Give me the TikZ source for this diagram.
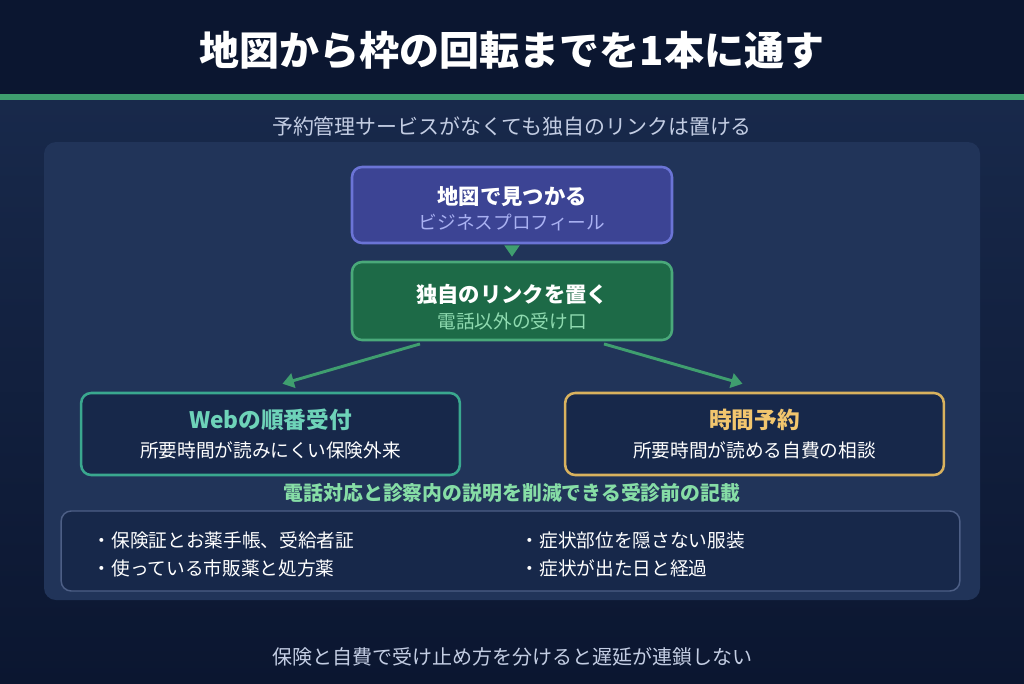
\documentclass[tikz,border=0pt]{standalone}
\usepackage{fontspec}
\setmainfont{Noto Sans CJK JP}
\usepackage{xcolor}
\usepackage{tikz}
\usetikzlibrary{arrows.meta, positioning}

\definecolor{bgDark}{HTML}{0B1630}
\definecolor{bgBand}{HTML}{18294B}
\definecolor{panelBg}{HTML}{213459}
\definecolor{cardBg}{HTML}{17284A}
\definecolor{lineGreen}{HTML}{3F9E6F}
\definecolor{mapFill}{HTML}{3C4494}
\definecolor{mapEdge}{HTML}{6B74D6}
\definecolor{mapSub}{HTML}{A9B1F2}
\definecolor{linkFill}{HTML}{1D6A47}
\definecolor{linkEdge}{HTML}{4AA97A}
\definecolor{linkSub}{HTML}{8FDBB0}
\definecolor{webEdge}{HTML}{3AA88F}
\definecolor{webText}{HTML}{6ED3B9}
\definecolor{slotEdge}{HTML}{D9B25E}
\definecolor{slotText}{HTML}{F2C66E}
\definecolor{noteHead}{HTML}{86DDA6}
\definecolor{noteEdge}{HTML}{4D5F86}
\definecolor{softText}{HTML}{C3CDE3}

\begin{document}
\begin{tikzpicture}[x=0.75pt, y=-0.75pt,
    box/.style={rectangle, draw, rounded corners=7.5pt, line width=1.9pt, minimum width=240pt, minimum height=57pt},
    card/.style={rectangle, draw, fill=cardBg, rounded corners=7.5pt, line width=1.9pt, minimum width=284pt, minimum height=61.5pt},
    ttl/.style={font=\fontsize{16}{19}\selectfont\bfseries},
    sub/.style={font=\fontsize{14}{17}\selectfont},
    item/.style={anchor=west, text=white, font=\fontsize{14}{17}\selectfont},
    arrow/.style={-{Triangle[length=8.5pt, width=11pt]}, line width=2.2pt, draw=lineGreen},
]
\useasboundingbox (0,0) rectangle (1024,683);

% background
\fill[bgDark] (0,0) rectangle (1024,683);
\shade[top color=bgBand, bottom color=bgDark] (0,99) rectangle (1024,683);
\fill[lineGreen] (0,94) rectangle (1024,100);
\fill[panelBg, rounded corners=9pt] (44,142) rectangle (980,600);

\node[text=white, font=\fontsize{30}{34}\selectfont\bfseries] (title) at (512,50) {地図から枠の回転までを1本に通す};
\node[text=softText, font=\fontsize{15.7}{18}\selectfont] (lead) at (512,126) {予約管理サービスがなくても独自のリンクは置ける};

% flow boxes
\node[box, fill=mapFill, draw=mapEdge] (map) at (512,205) {};
\node[ttl, text=white] (mapT) at (512,196) {地図で見つかる};
\node[sub, text=mapSub] (mapS) at (512,222) {ビジネスプロフィール};

\node[box, fill=linkFill, draw=linkEdge, minimum height=58.5pt] (link) at (512,301) {};
\node[ttl, text=white] (linkT) at (512,294) {独自のリンクを置く};
\node[sub, text=linkSub] (linkS) at (512,321) {電話以外の受け口};

\node[card, draw=webEdge] (web) at (270.5,434) {};
\node[ttl, text=webText, font=\fontsize{17}{20}\selectfont\bfseries] (webT) at (270.5,420) {Webの順番受付};
\node[sub, text=white] (webS) at (270.5,450) {所要時間が読みにくい保険外来};

\node[card, draw=slotEdge] (slot) at (754.5,434) {};
\node[ttl, text=slotText, font=\fontsize{17}{20}\selectfont\bfseries] (slotT) at (754.5,420) {時間予約};
\node[sub, text=white] (slotS) at (754.5,450) {所要時間が読める自費の相談};

\draw[arrow, shorten <=3pt, shorten >=3pt] (map.south) -- (link.north);
\draw[arrow] ([xshift=-69pt, yshift=-2pt]link.south) -- ([xshift=9pt, yshift=6pt]web.north);
\draw[arrow] ([xshift=69pt, yshift=-2pt]link.south) -- ([xshift=-9pt, yshift=6pt]slot.north);

% notes
\node[text=noteHead, font=\fontsize{14.9}{18}\selectfont\bfseries] (noteT) at (512,493) {電話対応と診察内の説明を削減できる受診前の記載};
\node[rectangle, draw=noteEdge, fill=cardBg, rounded corners=7.5pt, line width=1.1pt, minimum width=674pt, minimum height=60pt] (notes) at (510.5,551) {};
\node[item] (n1) at (88,540) {・保険証とお薬手帳、受給者証};
\node[item] (n2) at (88,568) {・使っている市販薬と処方薬};
\node[item] (n3) at (516,540) {・症状部位を隠さない服装};
\node[item] (n4) at (516,568) {・症状が出た日と経過};

\node[text=softText, font=\fontsize{15}{18}\selectfont] (foot) at (512,657) {保険と自費で受け止め方を分けると遅延が連鎖しない};
\end{tikzpicture}
\end{document}
